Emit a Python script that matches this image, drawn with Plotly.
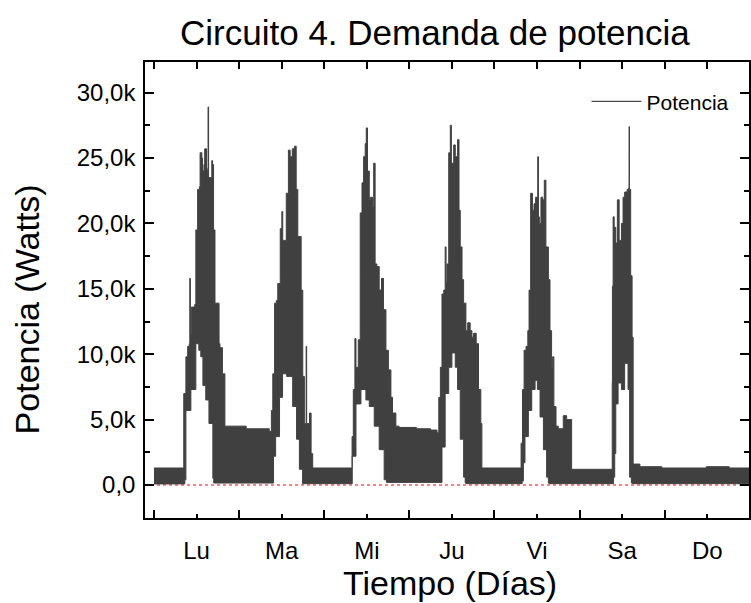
import plotly.graph_objects as go

# Day-of-week labels for the bottom axis (one day = 24 h)
dias = ["Lu", "Ma", "Mi", "Ju", "Vi", "Sa", "Do"]

# Upper envelope of the measured power: time (h) and power (kW)
t_max = [
    0.0, 8.1,
    8.4, 9.0, 9.5, 9.95, 10.1, 10.25, 10.5, 11.5, 11.8, 12.3, 12.8, 13.0, 13.5, 13.7,
    14.1, 14.3, 14.8, 15.15, 15.25, 15.4, 16.0, 16.3, 16.5, 16.8, 17.2, 17.9, 18.35,
    18.6, 19.3, 19.7, 20.0,
    26.0, 32.5,
    32.9, 33.1, 33.5, 34.0, 34.5, 34.9, 35.6, 36.05, 36.3, 36.8, 37.3, 37.9, 38.4,
    39.0, 39.6, 40.1, 40.55, 41.2, 41.5, 41.95, 42.4, 42.75, 42.9, 43.05, 43.35,
    43.85, 44.3, 44.75,
    55.6,
    55.85, 56.2, 56.65, 56.95, 57.6, 58.15, 58.65, 59.1, 59.55, 59.85, 60.2, 60.7,
    61.0, 61.6, 61.95, 62.35, 62.85, 63.5, 64.15, 64.7, 65.4, 66.1, 66.8, 67.25,
    68.2, 69.1,
    74.0, 78.0, 79.8,
    80.3, 80.75, 81.2, 81.7, 82.1, 82.35, 82.6, 83.1, 83.55, 83.85, 84.0, 84.5,
    84.95, 85.6, 86.0, 86.35, 86.85, 87.3, 87.95, 88.45, 89.15, 89.65, 90.1, 90.85,
    91.5, 92.15, 92.45,
    103.4,
    103.5, 103.9, 104.35, 104.9, 105.4, 105.75, 106.2, 106.7, 107.15, 107.6, 108.2,
    108.4, 108.65, 109.1, 109.6, 110.05, 110.5, 111.2, 111.65, 112.1, 112.4, 112.75,
    113.35, 114.0, 115.4, 116.35, 117.25, 117.75,
    129.1,
    129.2, 129.25, 129.45, 129.75, 130.2, 130.65, 131.15, 131.8, 132.25, 132.7,
    133.4, 133.85, 133.95, 134.05, 134.4, 134.8, 135.1,
    137.0, 143.0, 143.2, 155.5, 155.7, 162.0, 162.2, 168.0,
]
p_max = [
    1.3, 1.3,
    7.0, 9.8, 10.6, 10.8, 15.8, 11.5, 13.6, 13.8, 19.5, 22.6, 22.8, 25.4, 25.0, 24.0,
    24.5, 25.7, 24.0, 24.2, 28.9, 23.5, 23.5, 24.8, 24.5, 19.5, 13.9, 13.9, 10.8,
    10.5, 8.5, 8.5, 4.5,
    4.3, 4.1,
    4.1, 5.7, 8.5, 13.9, 14.1, 15.4, 19.6, 20.9, 18.7, 18.7, 22.3, 25.6, 25.1,
    25.7, 25.9, 22.6, 19.0, 19.0, 14.9, 8.3, 4.7, 4.7, 10.6, 4.7, 4.7,
    5.5, 2.4, 1.3,
    1.3,
    3.7, 7.3, 11.2, 9.0, 11.1, 20.8, 23.1, 25.1, 26.1, 27.3, 24.0, 21.8,
    22.0, 21.3, 24.6, 16.9, 16.7, 14.9, 15.8, 13.4, 10.3, 8.8, 6.7, 5.5,
    4.5, 4.4,
    4.3, 4.2, 4.0,
    6.7, 9.0, 14.6, 14.9, 18.2, 15.5, 16.9, 25.4, 27.5, 24.6, 24.6, 26.0,
    25.1, 26.4, 21.0, 18.2, 15.7, 13.9, 11.8, 12.4, 11.8, 11.3, 11.6, 10.8,
    7.3, 4.7, 1.3,
    1.3,
    3.2, 7.3, 10.3, 10.6, 11.8, 14.9, 22.3, 21.0, 21.5, 22.0, 25.1,
    20.5, 20.0, 22.0, 21.8, 23.3, 18.2, 15.7, 11.8, 9.0, 9.8, 6.0,
    4.5, 4.3, 5.3, 5.0, 5.0, 1.2,
    1.2,
    7.8, 15.2, 20.5, 19.7, 18.5, 21.8, 18.7, 20.0, 22.0, 22.4,
    22.6, 22.7, 27.4, 22.6, 16.0, 11.3, 1.6,
    1.4, 1.4, 1.3, 1.3, 1.4, 1.4, 1.3, 1.3,
]

# Lower envelope of the measured power: time (h) and power (kW)
t_min = [
    0.0, 8.7,
    9.0, 10.4, 11.8, 12.65, 13.2, 13.8, 14.6, 15.5, 16.6, 16.85, 17.0,
    33.7,
    34.3, 35.4, 36.25, 37.4, 38.2, 39.1, 40.2, 41.0, 41.9, 42.15,
    55.9,
    56.95, 58.35, 59.75, 60.7, 62.1, 63.5, 64.9, 65.55, 65.9,
    81.2,
    82.1, 83.1, 84.0, 84.95, 85.6, 86.35, 87.3, 87.75, 88.05,
    103.8,
    104.15, 104.6, 105.55, 106.5, 107.45, 108.1, 108.85, 109.8, 110.7, 111.2, 111.4,
    129.55,
    129.9, 130.2, 130.85, 131.8, 132.7, 133.65, 134.1, 134.6, 134.9,
    168.0,
]
p_min = [
    0.08, 0.08,
    0.4, 5.7, 7.3, 10.8, 10.3, 9.8, 7.6, 6.5, 4.7, 0.5, 0.15,
    0.15,
    2.2, 3.7, 6.7, 8.5, 8.3, 8.3, 6.0, 3.5, 1.2, 0.1,
    0.1,
    2.2, 6.2, 7.3, 6.5, 6.0, 4.5, 2.7, 0.4, 0.2,
    0.2,
    2.9, 7.0, 9.0, 10.1, 9.0, 7.3, 3.5, 0.6, 0.15,
    0.1,
    0.3, 1.7, 3.7, 5.7, 7.3, 8.0, 7.3, 5.2, 2.7, 0.6, 0.15,
    0.1,
    0.6, 2.4, 6.2, 7.8, 7.3, 9.3, 7.3, 0.6, 0.15,
    0.1,
]

# Y axis ticks (W)
y_ticks = [0, 5000, 10000, 15000, 20000, 25000, 30000]
y_tick_text = ["0,0", "5,0k", "10,0k", "15,0k", "20,0k", "25,0k", "30,0k"]

color_senal = "#404040"
fuente = "Liberation Sans, Arial, sans-serif"

# Closed outline: upper envelope forward, lower envelope backward
x_banda = t_max + t_min[::-1]
y_banda = [v * 1000 for v in p_max + p_min[::-1]]

fig = go.Figure()
fig.add_trace(go.Scatter(
    x=x_banda, y=y_banda, mode="lines", fill="toself",
    fillcolor=color_senal, line=dict(color=color_senal, width=1, shape="hv"),
    showlegend=False, hoverinfo="skip",
))
fig.add_trace(go.Scatter(
    x=[None], y=[None], mode="lines", name="Potencia",
    line=dict(color="#202020", width=1),
))
# carrier for the top axis
fig.add_trace(go.Scatter(
    x=[0], y=[None], xaxis="x2", mode="lines",
    showlegend=False, hoverinfo="skip",
))

x_range = [-2.53, 167.76]
dia_centros = [12 + 24 * i for i in range(len(dias))]
dia_limites = [24 * i for i in range(len(dias) + 1)]

axis_common = dict(
    showline=True, linewidth=1.5, linecolor="black",
    showgrid=False, zeroline=False,
    tickcolor="black", tickwidth=1.5,
)

fig.update_layout(
    width=751, height=603,
    margin=dict(l=145, r=0, t=62, b=85),
    paper_bgcolor="white", plot_bgcolor="white",
    font=dict(family=fuente, color="black"),
    title=dict(
        text="Circuito 4. Demanda de potencia",
        x=0.48, xref="paper", xanchor="center",
        y=1 - 33 / 603, yref="container", yanchor="middle",
        font=dict(size=35, family=fuente, color="black"),
    ),
    showlegend=True,
    legend=dict(
        x=0.731, y=0.958, xanchor="left", yanchor="top",
        bgcolor="rgba(0,0,0,0)", font=dict(size=21, family=fuente),
        itemwidth=50,
    ),
    xaxis=dict(
        range=x_range, tickmode="array", tickvals=dia_centros, ticktext=dias,
        ticks="inside", ticklen=4, tickfont=dict(size=24),
        ticklabelstandoff=10,
        minor=dict(tickmode="array", tickvals=dia_limites, ticks="inside",
                   ticklen=8, tickwidth=1.5, tickcolor="black"),
        **axis_common,
    ),
    xaxis2=dict(
        range=x_range, overlaying="x", side="top", anchor="y",
        tickmode="linear", tick0=0, dtick=12, ticks="inside", ticklen=7,
        showticklabels=False,
        **axis_common,
    ),
    yaxis=dict(
        range=[-2523, 32339], tickmode="array", tickvals=y_ticks,
        ticktext=y_tick_text, ticks="inside", ticklen=9, mirror="ticks",
        tickfont=dict(size=24), ticklabelstandoff=3,
        minor=dict(dtick=2500, tick0=0, ticks="inside", ticklen=5,
                   tickwidth=1.5, tickcolor="black"),
        **axis_common,
    ),
    annotations=[
        dict(text="Potencia (Watts)", textangle=-90, xref="paper", yref="paper",
             x=(27 - 145) / 606, y=(518 - 309) / 456, xanchor="center",
             yanchor="middle", showarrow=False, font=dict(size=34, family=fuente)),
        dict(text="Tiempo (Días)", xref="paper", yref="paper",
             x=(451 - 145) / 606, y=(518 - 583) / 456, xanchor="center",
             yanchor="middle", showarrow=False, font=dict(size=34, family=fuente)),
    ],
    shapes=[
        dict(type="line", xref="paper", yref="y", x0=0, x1=1, y0=0, y1=0,
             line=dict(color="red", width=1, dash="dot"), layer="below"),
    ],
)

fig.write_html("out.html")
